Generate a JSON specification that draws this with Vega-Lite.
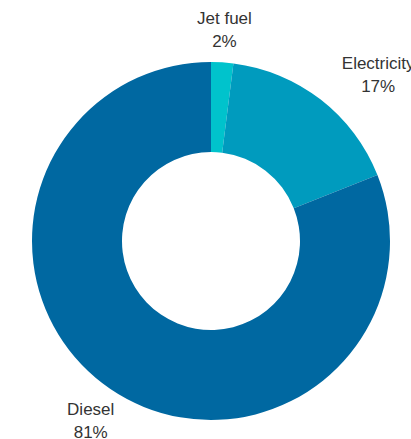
{
  "$schema": "https://vega.github.io/schema/vega-lite/v6.json",
  "width": 400,
  "height": 396,
  "autosize": {"type": "none"},
  "padding": {"left": 11, "top": 43, "right": 0, "bottom": 0},
  "background": "white",
  "view": {"stroke": null},
  "data": {
    "values": [
      {"fuel": "Jet fuel", "value": 0.02, "order": 1},
      {"fuel": "Electricity", "value": 0.17, "order": 2},
      {"fuel": "Diesel", "value": 0.81, "order": 3}
    ]
  },
  "encoding": {
    "theta": {"field": "value", "type": "quantitative", "stack": true},
    "order": {"field": "order", "type": "quantitative"}
  },
  "layer": [
    {
      "mark": {"type": "arc", "radius": 179, "innerRadius": 89},
      "encoding": {
        "color": {
          "field": "fuel",
          "type": "nominal",
          "scale": {"domain": ["Jet fuel", "Electricity", "Diesel"], "range": ["#00c3cc", "#009bbe", "#0068a1"]},
          "legend": null
        }
      }
    },
    {
      "mark": {"type": "text", "radius": 214, "dy": -8, "fontSize": 17, "font": "Liberation Sans", "color": "#333333"},
      "encoding": {
        "text": {"condition": {"test": "datum.fuel !== 'Electricity'", "field": "fuel"}, "value": ""}
      }
    },
    {
      "mark": {"type": "text", "radius": 214, "dy": 15, "fontSize": 17, "font": "Liberation Sans", "color": "#333333"},
      "encoding": {
        "text": {"condition": {"test": "datum.fuel !== 'Electricity'", "field": "value", "format": ".0%"}, "value": ""}
      }
    },
    {
      "mark": {"type": "text", "radius": 214, "dx": 36, "dy": -8, "fontSize": 17, "font": "Liberation Sans", "color": "#333333"},
      "encoding": {
        "text": {"condition": {"test": "datum.fuel === 'Electricity'", "field": "fuel"}, "value": ""}
      }
    },
    {
      "mark": {"type": "text", "radius": 214, "dx": 36, "dy": 15, "fontSize": 17, "font": "Liberation Sans", "color": "#333333"},
      "encoding": {
        "text": {"condition": {"test": "datum.fuel === 'Electricity'", "field": "value", "format": ".0%"}, "value": ""}
      }
    }
  ]
}
